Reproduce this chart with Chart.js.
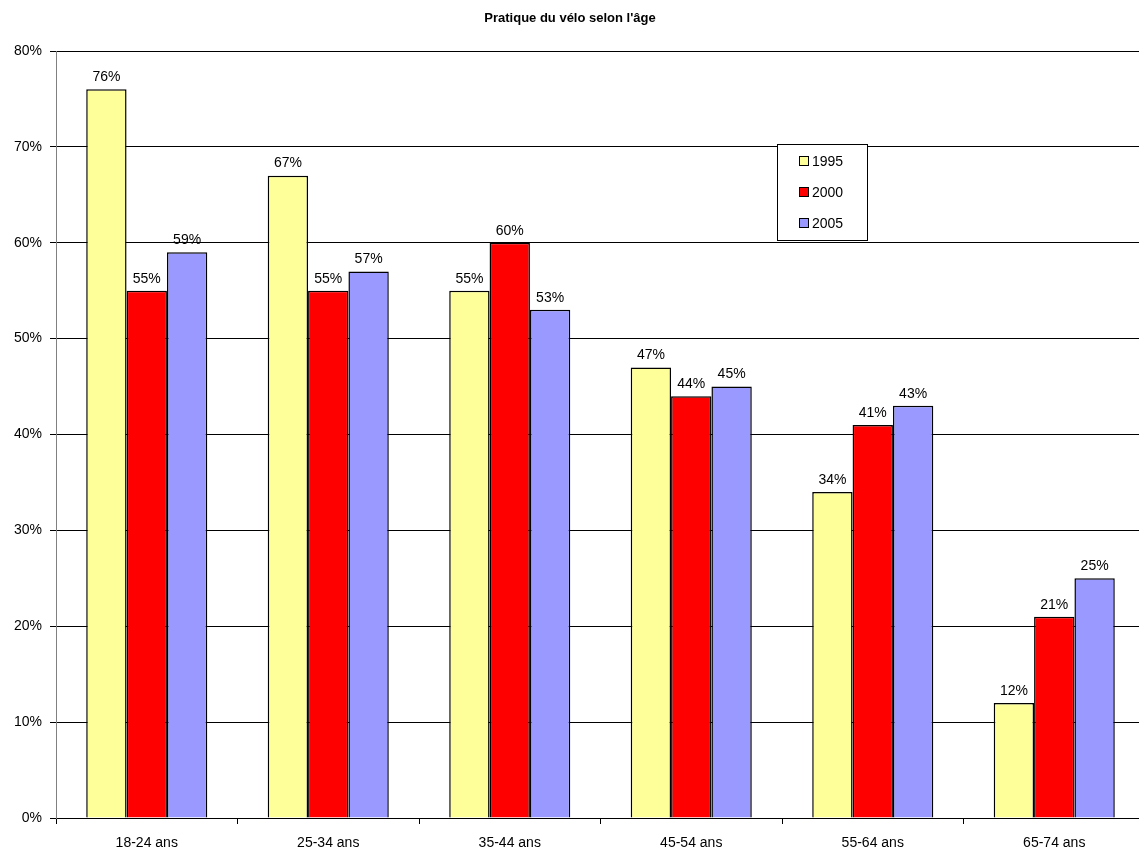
<!DOCTYPE html>
<html>
<head>
<meta charset="utf-8">
<script src="https://cdn.jsdelivr.net/npm/chart.js@4.4.0/dist/chart.umd.min.js"></script>
<style>
  html, body { margin: 0; padding: 0; background: #fff; overflow: hidden; }
  .wrap { width: 1139px; height: 854px; overflow: hidden; }
  canvas { display: block; }
</style>
</head>
<body>
<div class="wrap">
<canvas id="velo-chart" width="1145" height="854"></canvas>
</div>
<script>
const categories = ['18-24 ans', '25-34 ans', '35-44 ans', '45-54 ans', '55-64 ans', '65-74 ans'];
const years = ['1995', '2000', '2005'];
const values1995 = [76, 67, 55, 47, 34, 12];
const values2000 = [55, 55, 60, 44, 41, 21];
const values2005 = [59, 57, 53, 45, 43, 25];
const yTicks = [0, 10, 20, 30, 40, 50, 60, 70, 80];

const FONT = 'Arial, "Liberation Sans", sans-serif';

// value labels above each bar
const barLabels = {
  id: 'barLabels',
  afterDatasetsDraw(chart) {
    const { ctx } = chart;
    ctx.save();
    ctx.font = '14px ' + FONT;
    ctx.fillStyle = '#000';
    ctx.textAlign = 'center';
    ctx.textBaseline = 'bottom';
    chart.data.datasets.forEach((ds, i) => {
      chart.getDatasetMeta(i).data.forEach((bar, j) => {
        ctx.fillText(ds.data[j] + '%', bar.x, bar.y - 5);
      });
    });
    ctx.restore();
  }
};

// title + boxed legend inside the plot
const decorations = {
  id: 'decorations',
  afterDraw(chart) {
    const { ctx } = chart;
    ctx.save();
    ctx.font = 'bold 13px ' + FONT;
    ctx.fillStyle = '#000';
    ctx.textAlign = 'center';
    ctx.textBaseline = 'middle';
    ctx.fillText("Pratique du vélo selon l'âge", 570, 18);

    const lx = 777.5, ly = 144.5, lw = 90, lh = 96;
    ctx.fillStyle = '#fff';
    ctx.fillRect(lx, ly, lw, lh);
    ctx.strokeStyle = '#000';
    ctx.lineWidth = 1;
    ctx.strokeRect(lx, ly, lw, lh);

    ctx.font = '14px ' + FONT;
    ctx.textAlign = 'left';
    chart.data.datasets.forEach((ds, i) => {
      const y = 161 + i * 31;
      ctx.fillStyle = ds.backgroundColor;
      ctx.fillRect(799.5, y - 4.5, 9, 9);
      ctx.strokeRect(799.5, y - 4.5, 9, 9);
      ctx.fillStyle = '#000';
      ctx.fillText(ds.label, 812, y + 1);
    });
    ctx.restore();
  }
};

new Chart(document.getElementById('velo-chart'), {
  type: 'bar',
  data: {
    labels: categories,
    datasets: [
      { label: years[0], data: values1995, backgroundColor: '#FFFF99' },
      { label: years[1], data: values2000, backgroundColor: '#FF0000' },
      { label: years[2], data: values2005, backgroundColor: '#9999FF' }
    ].map(ds => Object.assign(ds, {
      borderColor: '#000',
      borderWidth: 1.5,
      borderSkipped: 'bottom',
      categoryPercentage: 0.667,
      barPercentage: 1
    }))
  },
  options: {
    responsive: false,
    animation: false,
    layout: { padding: { top: 51, right: 0, left: 0, bottom: 0 } },
    plugins: {
      legend: { display: false },
      title: { display: false },
      tooltip: { enabled: false }
    },
    scales: {
      x: {
        offset: true,
        grid: {
          offset: true,
          drawOnChartArea: false,
          color: '#000',
          tickLength: 6
        },
        border: { color: '#000', width: 1 },
        ticks: { color: '#000', font: { family: FONT, size: 14 }, padding: 11 },
        afterFit(scale) { scale.height = 36; }
      },
      y: {
        min: 0,
        max: 80,
        afterBuildTicks(scale) { scale.ticks = yTicks.map(v => ({ value: v })); },
        grid: { color: '#000', tickLength: 6, tickColor: '#000' },
        border: { color: '#808080', width: 1 },
        ticks: {
          color: '#000',
          font: { family: FONT, size: 14 },
          padding: 8,
          callback: v => v + '%'
        },
        afterFit(scale) { scale.width = 56; }
      }
    }
  },
  plugins: [barLabels, decorations]
});
</script>
</body>
</html>
